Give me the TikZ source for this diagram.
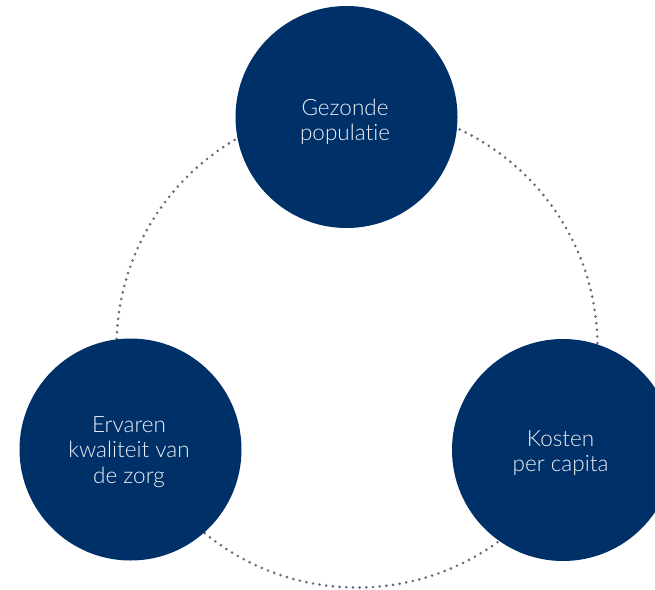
\documentclass[tikz,border=0pt]{standalone}
\usepackage{fontspec}
\setmainfont{Lato Light}[Ligatures=NoCommon]
\definecolor{navy}{RGB}{0,48,104}
\definecolor{dotgray}{RGB}{100,108,120}
\definecolor{txt}{RGB}{236,240,246}
\begin{document}
\begin{tikzpicture}[x=1pt,y=-1pt,
  bubble/.style={circle,fill=navy,minimum size=222pt,inner sep=0pt,
    text=txt,align=center,font=\fontsize{22.5}{25.2}\selectfont},
  ring/.style={dotgray,line width=2.9pt,line cap=round,dash pattern=on 0pt off 6.7pt}]
\clip (0,0) rectangle (655,589);
\fill[white] (0,0) rectangle (655,589);
\coordinate (ringc) at (357,347);
\draw[ring] (ringc) circle[radius=240.5];
\node[bubble] (top) at (346.5,117) {};
\node[bubble] (left) at (130.5,449.5) {};
\node[bubble] (right) at (563,450) {};
\node[text=txt,align=center,font=\fontsize{22.5}{25.2}\selectfont] (toptext) at (345,122) {Gezonde\\populatie};
\node[text=txt,align=center,font=\fontsize{22.5}{25.2}\selectfont] (lefttext) at (129,452) {Ervaren\\kwaliteit van\\de zorg};
\node[text=txt,align=center,font=\fontsize{22.5}{25.2}\selectfont] (righttext) at (560.5,453) {Kosten\\per capita};
\end{tikzpicture}
\end{document}
